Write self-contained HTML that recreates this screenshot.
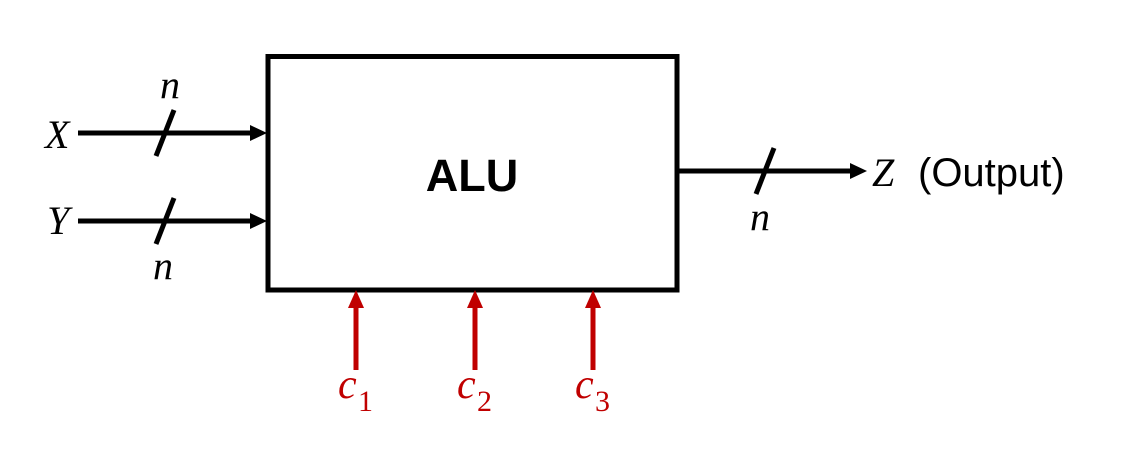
<!DOCTYPE html>
<html><head><style>
html,body{margin:0;padding:0;background:#fff;}
svg{display:block;}
</style></head><body>
<svg width="1121" height="465" viewBox="0 0 1121 465" xmlns="http://www.w3.org/2000/svg">
<rect x="268" y="56.5" width="409" height="233.5" fill="none" stroke="#000" stroke-width="5"/>
<text x="472" y="191" font-family="Liberation Sans, sans-serif" font-weight="bold" font-size="45" text-anchor="middle">ALU</text>
<!-- X -->
<line x1="78" y1="133" x2="252" y2="133" stroke="#000" stroke-width="5"/>
<polygon points="250,125 267,133 250,141" fill="#000"/>
<line x1="156" y1="156" x2="174" y2="110" stroke="#000" stroke-width="5"/>
<text x="45" y="148" font-family="Liberation Serif, serif" font-style="italic" font-size="40">X</text>
<text x="160" y="98" font-family="Liberation Serif, serif" font-style="italic" font-size="40">n</text>
<!-- Y -->
<line x1="78" y1="221" x2="252" y2="221" stroke="#000" stroke-width="5"/>
<polygon points="250,213 267,221 250,229" fill="#000"/>
<line x1="156" y1="244" x2="174" y2="198" stroke="#000" stroke-width="5"/>
<text x="47" y="234" font-family="Liberation Serif, serif" font-style="italic" font-size="40">Y</text>
<text x="153" y="279" font-family="Liberation Serif, serif" font-style="italic" font-size="40">n</text>
<!-- Output -->
<line x1="679" y1="171" x2="852" y2="171" stroke="#000" stroke-width="5"/>
<polygon points="850,163 867,171 850,179" fill="#000"/>
<line x1="756" y1="194" x2="774" y2="148" stroke="#000" stroke-width="5"/>
<text x="750" y="230" font-family="Liberation Serif, serif" font-style="italic" font-size="40">n</text>
<text x="872" y="186" font-family="Liberation Serif, serif" font-style="italic" font-size="40">Z</text>
<text x="918" y="186" font-family="Liberation Sans, sans-serif" font-size="40">(Output)</text>
<!-- red -->
<g stroke="#c00000" stroke-width="5" fill="#c00000">
<line x1="356" y1="370" x2="356" y2="305"/>
<line x1="475" y1="370" x2="475" y2="305"/>
<line x1="593" y1="370" x2="593" y2="305"/>
</g>
<g fill="#c00000">
<polygon points="348,308 356,290 364,308"/>
<polygon points="467,308 475,290 483,308"/>
<polygon points="585,308 593,290 601,308"/>
</g>
<g fill="#c00000" font-family="Liberation Serif, serif" font-style="italic" font-size="42">
<text x="338" y="398">c</text><text x="358" y="411" font-style="normal" font-size="30">1</text>
<text x="457" y="398">c</text><text x="477" y="411" font-style="normal" font-size="30">2</text>
<text x="575" y="398">c</text><text x="595" y="411" font-style="normal" font-size="30">3</text>
</g>
</svg>
</body></html>
